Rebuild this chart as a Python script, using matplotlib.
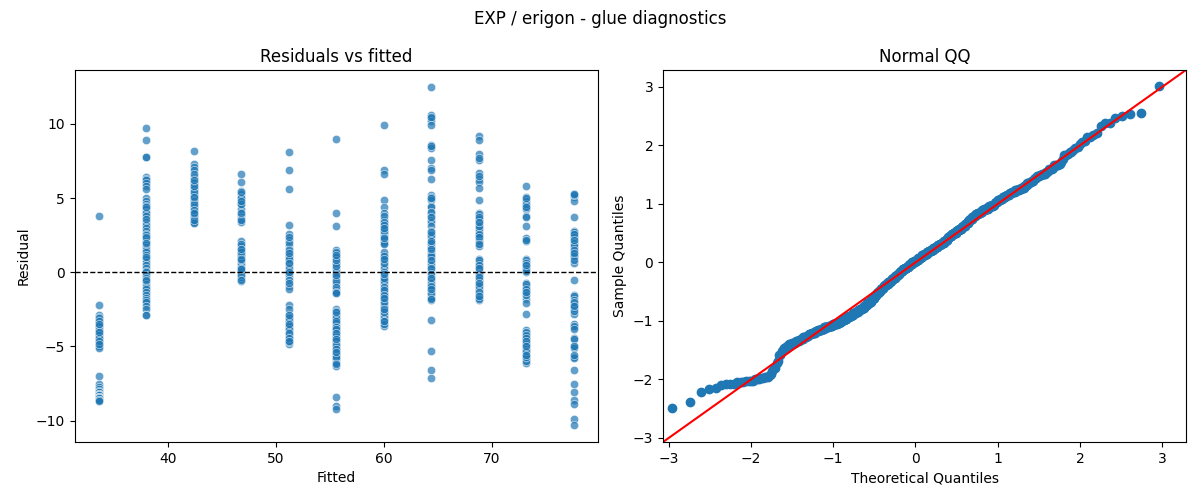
import statistics
import numpy as np
import matplotlib
matplotlib.use("Agg")
import matplotlib.pyplot as plt
import seaborn as sns

# fitted value of each glue level (linear model)
fitted_levels = [33.6, 38.0, 42.4, 46.8, 51.2, 55.6, 60.0, 64.4, 68.8, 73.2, 77.6]

# residuals, one list per fitted level
res_g1 = [3.8,
          -2.2, -2.9, -3.0, -3.2, -3.4, -3.4, -3.6, -3.8, -3.8, -3.9, -4.1, -4.1, -4.3,
          -4.4, -4.5, -4.5, -4.7, -4.8, -4.9, -5.0, -5.1, -3.5, -4.0, -4.6, -3.7,
          -3.1, -3.3, -3.6, -3.9, -4.2, -4.4, -4.6, -4.8, -3.5, -4.0,
          -7.0, -7.5, -7.7, -7.9, -8.0, -8.1, -8.1, -8.2, -8.2, -8.3, -8.3, -8.3, -8.4,
          -8.4, -8.4, -8.5, -8.5, -8.5, -8.6, -8.6, -8.7]
res_g2 = [9.7, 8.9, 7.8, 7.8, 6.4, 6.3, 6.2, 6.0, 5.8, 5.6,
          5.0, 4.8, 4.6, 4.5, 4.3, 4.1, 4.0, 3.8, 3.4, 3.2, 3.0, 2.8, 2.6, 2.5, 2.3, 2.1,
          1.9, 1.7, 1.5, 1.4, 1.2, 0.9, 0.7, 0.5, 0.3, 0.1, 0.0, -0.2, -0.4, -0.6, -0.8,
          -1.0, -1.1, -1.3, -1.5, -1.7, -1.9, -2.0, -2.3, -2.5, -2.9, -2.9, 2.4, 1.0,
          -0.5, 4.4, 3.6, 2.0]
res_g3 = [8.2, 7.3, 7.1, 6.9, 6.4, 6.3, 6.1, 5.9, 5.7, 5.5, 5.3, 5.1, 4.9, 4.7, 4.5,
          4.3, 4.2, 4.0, 3.8, 3.6, 3.5, 3.3, 6.0, 5.6, 5.2, 5.0, 4.8, 4.4, 4.1, 3.9, 3.7,
          3.4, 6.6, 5.4, 4.6, 3.3, 5.8, 4.2, 3.5, 6.2, 5.1, 4.0]
res_g4 = [6.6, 6.1, 5.5, 5.3, 5.1, 4.7, 4.6, 4.0, 3.8, 3.6, 3.4, 4.3, 5.0, 3.5,
          2.1, 1.8, 1.6, 1.4, 1.2, 1.0, 0.5, 0.3, 0.1, -0.2, -0.4, -0.6, 0.0, 0.2, 0.4,
          1.1, 1.5, -0.1, -0.3, 0.6, 0.8, 1.9, 4.6, 4.0, 5.4, 0.0, 0.1, -0.2, 0.3, 1.2,
          1.4, 1.6, -0.5, 0.2, 0.9, 4.8]
res_g5 = [8.1, 6.9, 5.6, 3.2, 2.6, 2.2, 1.8, 1.6, 1.4, 1.2, 1.0, 0.8, 0.5, 0.1, -0.3,
          -0.9, -1.1, -2.2, -2.8, -3.0, -3.2, -3.4, -3.7, -3.9, -4.1, -4.3, -4.5, -4.8,
          2.0, 1.5, 0.7, 0.3, -0.1, -0.5, 1.1, 0.9, 0.6, 0.0, -0.7, 1.3, 2.4, -2.5, -3.3,
          -3.6, -4.0, -4.2, -4.4, -4.6, -4.7, -3.8, -3.1, -4.1, -4.4, -2.9, -3.5, -4.6]
res_g6 = [9.0, 4.0, 3.1, 1.5, 1.3, 1.1, 0.9, 0.7, 0.5, 0.2, -0.1, -0.5, -0.8, -1.2, -1.4,
          -2.5, -2.8, -3.0, -3.2, -3.5, -3.8, -4.0, -4.2, -4.4, -4.6, -4.9, -5.2, -5.4,
          -5.6, -5.9, -6.3, -8.4, -9.0, -9.2,
          1.4, 1.0, 0.6, 0.0, -0.3, -0.6, -1.0, -1.3, 0.4, 0.8, 1.2, -1.4, -0.2, -2.6,
          -2.9, -3.1, -3.4, -3.6, -3.9, -4.1, -4.3, -4.5, -4.7, -5.0, -5.3, -5.5, -5.8,
          -6.1, -3.3, -4.8, -5.1, -3.7, -4.4, -2.7, -5.7, -6.2,
          -4.3, -4.6, -4.9, -5.2, -3.8, -4.1, -4.5, -5.4]
res_g7 = [9.9, 6.9, 6.6, 4.9, 4.4, 4.0, 3.5, 3.3, 3.1, 2.7, 2.6, 2.2, 2.1, 2.0, 1.2, 1.0,
          0.8, 0.5, 0.3, -0.3, -0.8, -1.1, -1.4, -1.9, -2.1, -2.4, -2.8, -3.0, -3.2, -3.4,
          -3.6, 3.8, 3.4, 2.9, 2.4, 1.9, 1.4, 0.6, 0.0, -0.5, -0.6, -1.0, -1.2, -1.6, -1.8,
          -2.3, -2.6, -2.9, -3.1, -3.3, -3.5, 2.8, 3.2, 1.1, 0.9, -0.4, -1.5, -2.0, -2.7,
          3.0, 2.3, -0.1, -1.7, -3.3, -2.5]
res_g8 = [12.5, 10.6, 10.4, 10.2, 9.9, 8.6, 8.4, 7.6, 7.0, 6.9, 6.3, 5.2, 5.1, 4.9, 4.5,
          4.4, 4.0, 3.8, 3.5, 3.4, 3.1, 2.8, 2.6, 2.4, 1.9, 1.5, 1.2, 0.7, 0.5, 0.2, -0.3,
          -0.5, -0.7, -1.2, -1.5, -1.9, -3.2, -5.3, -6.6, -7.1,
          1.7, 1.0, 0.0, -1.0, -1.7, 2.0, 1.3, 0.3,
          -0.9, -1.4, 2.5, 1.1, -0.1, -1.8, 10.5, 8.5, 5.0, 4.1, 2.7, 1.6, 0.8,
          -0.4, -1.1, 3.7, 2.1]
res_g9 = [9.2, 8.9, 8.0, 7.6, 6.7, 6.3, 6.1, 5.7, 4.9, 4.0, 3.8, 3.5, 3.2, 3.0, 2.7, 2.3,
          2.0, 1.8, 0.9, 0.6, 0.4, 0.0, -0.2, -0.4, -0.6, -1.0, -1.2, -1.4, -1.6, -1.9,
          3.9, 3.6, 3.3, 2.9, 2.5, 2.1, 0.8, 0.2, -0.1, -0.5, -0.8, -1.1, -1.5, -1.7, 3.7,
          3.1, 2.6, 0.5, -0.3, -0.9, -1.3, -1.8, 7.7, 6.5, 2.4, 1.9, 0.3, -0.7, 3.4, -1.6]
res_g10 = [5.8, 5.1, 4.8, 4.5, 4.3, 3.8, 3.1, 2.3, 2.1, 0.9, 0.7, 0.5, 0.4, 0.2, 0.0, -0.7,
           -1.0, -1.2, -1.4, -1.8, -2.1, -2.8, -3.9, -4.1, -4.4, -4.6, -4.8, -5.0, -5.3,
           -5.5, -5.7, -5.9, -6.1, 4.6, 4.4, 5.0, 3.7, 2.2, 0.8, 0.6, 0.3, 0.1, -0.8, -1.1,
           -1.5, -1.3, -4.0, -4.3, -4.5, -4.7, -4.9, -5.2, -5.4, -5.6, -5.8, -6.0, -5.1,
           -4.2, -5.7, 0.5, -4.4, -4.8, -5.3, -5.6, -4.6, -5.0]
res_g11 = [5.3, 5.1, 4.8, 3.7, 2.8, 2.5, 2.3, 2.1, 1.9, 1.6, 1.4, 1.2, 1.0, 0.6, -0.5,
           -1.5, -2.0, -2.2, -2.3, -2.5, -2.8, -3.5, -3.7, -4.4, -5.0, -5.1, -5.7, -5.8,
           -6.6, -7.5, -8.1, -8.6, -8.9, -9.9, -10.3,
           5.2, 2.7, 2.4, 2.0, 1.8, 1.5, 1.1, 0.8, -1.6, -1.9, -2.1, -2.4, -2.6, -2.2,
           -3.6, -4.5, -5.0, -5.6, 2.6, 1.3, -2.0, -2.3, -3.8, 5.3, 2.2]

groups = [res_g1, res_g2, res_g3, res_g4, res_g5, res_g6,
          res_g7, res_g8, res_g9, res_g10, res_g11]

fitted = np.concatenate([[f] * len(g) for f, g in zip(fitted_levels, groups)])
resid = np.concatenate(groups)

# normal QQ: standardised residuals against normal quantiles
n = len(resid)
sample_q = np.sort((resid - resid.mean()) / resid.std())
nd = statistics.NormalDist()
theo_q = np.array([nd.inv_cdf(i / (n + 1)) for i in range(1, n + 1)])

fig, (ax1, ax2) = plt.subplots(1, 2, figsize=(12, 5), dpi=100)
fig.subplots_adjust(left=0.0623, right=0.9883, bottom=0.116, top=0.86, wspace=0.125)
fig.suptitle("EXP / erigon - glue diagnostics", fontsize=12)

sns.scatterplot(x=fitted, y=resid, alpha=0.7, ax=ax1)
ax1.axhline(0, color="black", linestyle="--", linewidth=1)
ax1.set_title("Residuals vs fitted")
ax1.set_xlabel("Fitted")
ax1.set_ylabel("Residual")

ax2.plot(theo_q, sample_q, marker="o", linestyle="none", color="C0")
lims = (-3.07, 3.29)
ax2.plot(lims, lims, color="r")
ax2.set_xlim(lims)
ax2.set_ylim(lims)
ax2.set_title("Normal QQ")
ax2.set_xlabel("Theoretical Quantiles")
ax2.set_ylabel("Sample Quantiles")

fig.savefig("out.png")
